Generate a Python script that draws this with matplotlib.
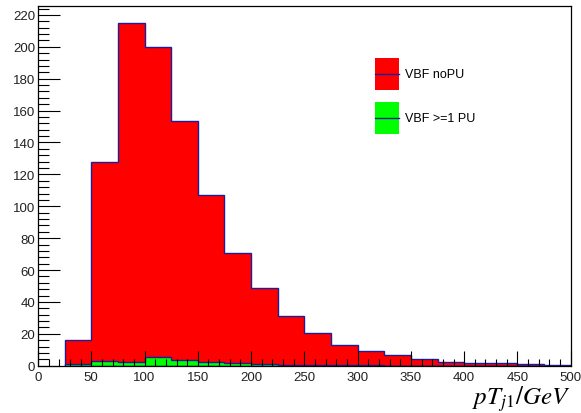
import matplotlib
matplotlib.use("Agg")
import matplotlib.pyplot as plt
from matplotlib.patches import Patch, Rectangle
from matplotlib.lines import Line2D
from matplotlib.ticker import MultipleLocator
import numpy as np

plt.rcParams['font.family'] = ['Liberation Sans', 'DejaVu Sans']
plt.rcParams['mathtext.fontset'] = 'stix'

bin_edges = [25, 50, 75, 100, 125, 150, 175, 200, 225, 250, 275, 300, 325, 350,
             375, 400, 425, 450, 475, 500]
nopu_counts = [16, 128, 215, 200, 153.5, 107, 70.5, 49, 31, 20.5, 13, 9, 7, 4.4,
               2.5, 2, 1.7, 1.3, 0.5]
pu_counts = [1, 3.1, 2.5, 5.6, 3.6, 2.1, 1.5, 1, 0.4, 0.3, 0.2, 0.2, 0.1, 0.1,
             0.1, 0.1, 0.1, 0.1, 0.1]
labels = ["VBF noPU", "VBF >=1 PU"]
xlabel = r"$pT_{j1}/GeV$"

edges = np.array(bin_edges)
centers = 0.5 * (edges[:-1] + edges[1:])

line_col = '#1c1c9c'


class FillLineHandler:
    def legend_artist(self, legend, orig_handle, fontsize, handlebox):
        x0, y0 = handlebox.xdescent, handlebox.ydescent
        w, h = handlebox.width, handlebox.height
        rect = Rectangle((-x0, -y0), w, h, facecolor=orig_handle.get_facecolor(),
                         edgecolor='none', transform=handlebox.get_transform())
        ln = Line2D([-x0, -x0 + w], [-y0 + h / 2, -y0 + h / 2], color=line_col,
                    lw=1.0, transform=handlebox.get_transform())
        handlebox.add_artist(rect)
        handlebox.add_artist(ln)
        return rect


fig = plt.figure(figsize=(5.81, 4.14), dpi=100)
ax = fig.add_axes([38/581, 1-366.7/414, (570.7-38)/581, (366.7-7)/414])

ax.hist(centers, bins=edges, weights=nopu_counts, histtype='stepfilled',
        facecolor='#ff0000', edgecolor=line_col, linewidth=1.0)
ax.hist(centers, bins=edges, weights=pu_counts, histtype='stepfilled',
        facecolor='#00ff00', edgecolor=line_col, linewidth=1.0)

ax.set_xlim(0, 500)
ax.set_ylim(0, 225.6)
ax.xaxis.set_major_locator(MultipleLocator(50))
ax.xaxis.set_minor_locator(MultipleLocator(10))
ax.yaxis.set_major_locator(MultipleLocator(20))
ax.yaxis.set_minor_locator(MultipleLocator(4))
ax.tick_params(axis='both', which='both', direction='in', top=False, right=False,
               labelsize=9.5, colors='black', labelcolor='#222222')
ax.tick_params(axis='y', which='major', length=16, width=0.8, pad=2)
ax.tick_params(axis='y', which='minor', length=8, width=0.8)
ax.tick_params(axis='x', which='major', length=11, width=0.8, pad=4)
ax.tick_params(axis='x', which='minor', length=5, width=0.8)
for s in ax.spines.values():
    s.set_linewidth(0.9)
ax.set_axisbelow(False)

ax.set_xlabel(xlabel, fontsize=18)
ax.xaxis.set_label_coords(1.0, -0.05)
ax.xaxis.label.set_horizontalalignment('right')
ax.xaxis.label.set_verticalalignment('top')

h1 = Patch(facecolor='#ff0000')
h2 = Patch(facecolor='#00ff00')
leg = ax.legend([h1, h2], labels, handler_map={Patch: FillLineHandler()},
                loc='upper left', bbox_to_anchor=(0.633, 0.855), borderpad=0,
                borderaxespad=0, frameon=False, fontsize=9, handlelength=1.9,
                handleheight=3.5, labelspacing=1.0, handletextpad=0.5)

fig.savefig("out.png", dpi=100)
